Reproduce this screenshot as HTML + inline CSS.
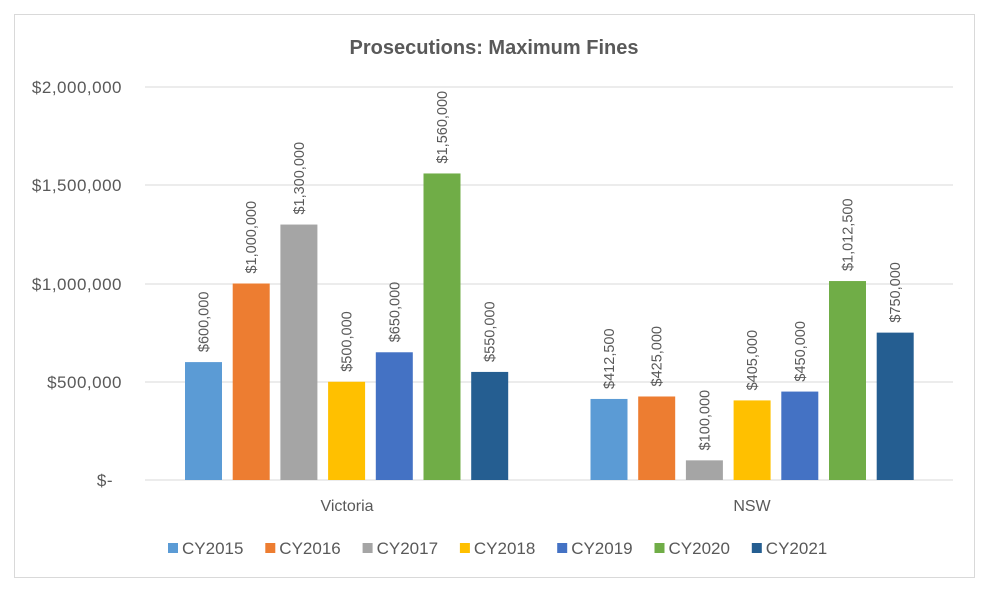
<!DOCTYPE html>
<html><head><meta charset="utf-8"><style>
body{margin:0;background:#fff;}
svg text{font-family:"Liberation Sans",sans-serif;fill:#595959;}
</style></head><body>
<svg width="987" height="584" xmlns="http://www.w3.org/2000/svg">
<rect x="0" y="0" width="987" height="584" fill="#fff"/>
<rect x="14.5" y="14.5" width="960" height="563" fill="#fff" stroke="#d9d9d9"/>
<text x="494" y="54" text-anchor="middle" font-size="20" font-weight="bold">Prosecutions: Maximum Fines</text>
<g stroke="#d9d9d9" stroke-width="1">
<line x1="145" x2="953" y1="87" y2="87"/>
<line x1="145" x2="953" y1="185" y2="185"/>
<line x1="145" x2="953" y1="284" y2="284"/>
<line x1="145" x2="953" y1="382" y2="382"/>
<line x1="145" x2="953" y1="480" y2="480"/>
</g>
<g font-size="17" text-anchor="end" letter-spacing="0.5">
<text x="122" y="93">$2,000,000</text>
<text x="122" y="191">$1,500,000</text>
<text x="122" y="290">$1,000,000</text>
<text x="122" y="388">$500,000</text>
<text x="113" y="486">$-</text>
</g>
<g id="bars"></g>
<text x="347" y="511" text-anchor="middle" font-size="16">Victoria</text>
<text x="752" y="511" text-anchor="middle" font-size="16">NSW</text>
<g id="leg" font-size="17"></g>
<script>
var colors=["#5b9bd5","#ed7d31","#a5a5a5","#ffc000","#4472c4","#70ad47","#255e91"];
var vic=[600000,1000000,1300000,500000,650000,1560000,550000];
var nsw=[412500,425000,100000,405000,450000,1012500,750000];
var vl=["$600,000","$1,000,000","$1,300,000","$500,000","$650,000","$1,560,000","$550,000"];
var nl=["$412,500","$425,000","$100,000","$405,000","$450,000","$1,012,500","$750,000"];
var ns="http://www.w3.org/2000/svg",g=document.getElementById("bars");
function draw(x0,vals,labs){for(var i=0;i<7;i++){var x=x0+i*47.7,h=vals[i]/2000000*393,y=480-h;
var r=document.createElementNS(ns,"rect");r.setAttribute("x",x);r.setAttribute("y",y);r.setAttribute("width",37);r.setAttribute("height",h);r.setAttribute("fill",colors[i]);g.appendChild(r);
var t=document.createElementNS(ns,"text");var cx=x+18.5+5,cy=y-10;t.setAttribute("x",cx);t.setAttribute("y",cy);t.setAttribute("font-size","14.5");t.setAttribute("transform","rotate(-90 "+cx+" "+cy+")");t.textContent=labs[i];g.appendChild(t);}}
draw(185,vic,vl);draw(590.5,nsw,nl);
var lg=document.getElementById("leg");
for(var i=0;i<7;i++){var x=168+i*97.3;var r=document.createElementNS(ns,"rect");r.setAttribute("x",x);r.setAttribute("y",543);r.setAttribute("width",10);r.setAttribute("height",10);r.setAttribute("fill",colors[i]);lg.appendChild(r);
var t=document.createElementNS(ns,"text");t.setAttribute("x",x+14);t.setAttribute("y",554);t.textContent="CY"+(2015+i);lg.appendChild(t);}
</script>
</svg>
</body></html>
